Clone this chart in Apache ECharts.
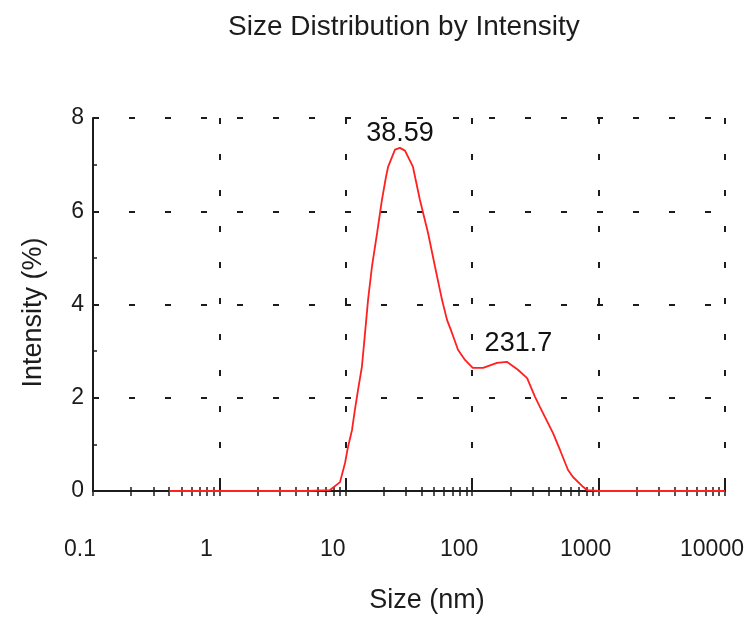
<!DOCTYPE html>
<html>
<head>
<meta charset="utf-8">
<script src="https://cdn.jsdelivr.net/npm/echarts@6/dist/echarts.min.js"></script>
<style>
html,body{margin:0;padding:0;background:#fff}
#chart{width:748px;height:621px}
</style>
</head>
<body>
<div id="chart"></div>
<script>
// size (nm) and intensity (%)
var sizes=[0.4,1,2,5,7.5,9.0,9.86,10.4,11.2,11.8,12.5,13.4,14.2,15.0,16.1,17.7,19.3,20.8,21.6,24.5,26.8,29.4,34.0,38.6,44.7,50.8,57.7,63.2,69.2,77.2,87.7,101,122,157,188,230,272,314,344,436,495,573,627,753,809,1000,2000,5000,10000];
var intensity=[0,0,0,0,0.02,0.19,0.60,0.94,1.31,1.74,2.17,2.66,3.39,4.10,4.81,5.54,6.24,6.74,6.95,7.32,7.36,7.30,6.95,6.24,5.54,4.81,4.10,3.67,3.39,3.03,2.81,2.64,2.64,2.75,2.77,2.60,2.42,2.02,1.80,1.24,0.88,0.45,0.30,0.09,0.02,0,0,0,0];
var decades=[0.1,1,10,100,1000,10000];
var minorSteps=[2,3,4,5,6,7,8,9];
var peakLabels=['38.59','231.7'];

var chart=echarts.init(document.getElementById('chart'));
var font='Liberation Sans';
var ink='#1c1c1c';

var points=sizes.map(function(s,i){return [s,intensity[i]];});

// tick positions for the helper axes (log10 space)
var majorLog=decades.map(function(d){return Math.round(Math.log10(d));});
var minorLog=[];
decades.slice(0,-1).forEach(function(d){
	minorSteps.forEach(function(k){minorLog.push(Math.log10(d*k));});
});

var helperAxis=function(vals,inside,len){
	return {
		type:'value',min:-1,max:4,position:'bottom',
		axisLine:{show:false},
		axisLabel:{show:false},
		splitLine:{show:false},
		axisTick:{show:true,inside:inside,length:len,customValues:vals,
			lineStyle:{color:ink,width:1.5}}
	};
};

var option={
	animation:false,
	backgroundColor:'#fff',
	title:{
		text:'Size Distribution by Intensity',
		left:223,top:8,
		textStyle:{fontFamily:font,fontSize:28,fontWeight:'normal',color:ink}
	},
	grid:{left:93,right:23,top:118,bottom:130,outerBoundsMode:'none'},
	xAxis:[{
		type:'log',logBase:10,min:0.1,max:10000,position:'bottom',
		name:'Size (nm)',nameLocation:'middle',nameGap:96,
		nameTextStyle:{fontFamily:font,fontSize:27,color:ink,padding:[0,0,0,36]},
		axisLine:{onZero:false,lineStyle:{color:ink,width:2}},
		axisTick:{inside:true,length:12,lineStyle:{color:ink,width:2}},
		axisLabel:{margin:47,fontFamily:font,fontSize:23,color:ink,padding:[0,26,0,0],
			formatter:function(v){return String(+v.toPrecision(6));}},
		splitLine:{show:true,lineStyle:{color:ink,width:2,type:[6,30]}}
	},
	helperAxis(minorLog,true,4),
	helperAxis(minorLog.concat(majorLog),false,5)
	],
	yAxis:{
		type:'value',min:0,max:8,interval:2,
		name:'Intensity (%)',nameLocation:'middle',nameGap:46,
		nameTextStyle:{fontFamily:font,fontSize:27,color:ink,padding:[0,16,0,0]},
		axisLine:{show:true,onZero:false,lineStyle:{color:ink,width:2}},
		axisTick:{show:true,inside:true,length:5,lineStyle:{color:ink,width:2}},
		minorTick:{show:true,splitNumber:2,length:4,lineStyle:{color:ink,width:1.5}},
		axisLabel:{margin:9,fontFamily:font,fontSize:23,color:ink},
		splitLine:{show:true,lineStyle:{color:ink,width:2,type:[6,30]}}
	},
	series:[{
		type:'line',
		xAxisIndex:0,
		data:points,
		symbol:'none',
		lineStyle:{color:'#ff2020',width:1.8},
		itemStyle:{color:'#ff2020'},
		markPoint:{
			symbol:'circle',symbolSize:0,
			label:{show:true,position:'top',fontFamily:font,fontSize:27,color:'#111',
				formatter:function(p){return p.name;}},
			data:[
				{name:peakLabels[0],coord:[26.8,7.36],label:{distance:1}},
				{name:peakLabels[1],coord:[232,2.6],label:{distance:13}}
			]
		}
	}]
};
chart.setOption(option);
</script>
</body>
</html>
